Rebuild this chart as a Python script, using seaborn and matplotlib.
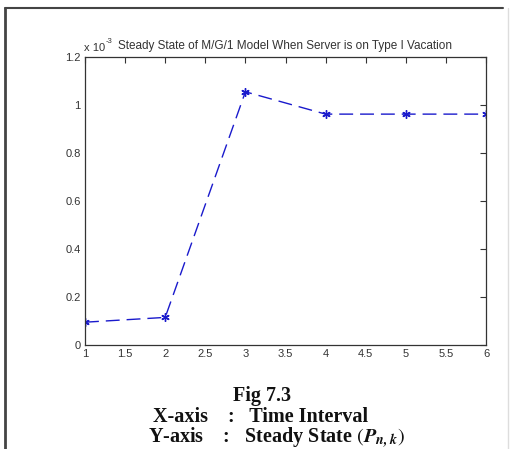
import matplotlib
matplotlib.use("Agg")
import matplotlib.pyplot as plt
import seaborn as sns
import pandas as pd

# data (values in units of 1e-3)
time_interval = [1, 2, 3, 4, 5, 6]
steady_state = [0.095, 0.115, 1.055, 0.962, 0.962, 0.962]
x_ticks = [1, 1.5, 2, 2.5, 3, 3.5, 4, 4.5, 5, 5.5, 6]
y_ticks = [0, 0.2, 0.4, 0.6, 0.8, 1, 1.2]

sns.set_style("white")
plt.rcParams['font.family'] = ['Liberation Sans', 'DejaVu Sans']
plt.rcParams['mathtext.fontset'] = 'stix'

df = pd.DataFrame({'t': time_interval, 'p': steady_state})

fig = plt.figure(figsize=(5.11, 4.49), dpi=100)
ax = fig.add_axes([85 / 511, 104 / 449, 401 / 511, 288 / 449])

line_col = '#1a1acc'
sns.lineplot(data=df, x='t', y='p', ax=ax, color=line_col, linewidth=1.0,
             marker=(6, 2, 0), markersize=6, markeredgecolor=line_col,
             markeredgewidth=1.0, dashes=False, linestyle=(0, (10, 5)))

ax.set_xlim(1, 6)
ax.set_ylim(0, 1.2)
ax.set_xticks(x_ticks)
ax.set_xticklabels([f'{v:g}' for v in x_ticks])
ax.set_yticks(y_ticks)
ax.set_yticklabels([f'{v:g}' for v in y_ticks])
ax.set_xlabel('')
ax.set_ylabel('')
ax.tick_params(direction='in', length=4, width=0.8, labelsize=8, color='#333333',
               labelcolor='#333333', top=True, right=True, pad=3)
for s in ax.spines.values():
    s.set_visible(True)
    s.set_color('#333333')
    s.set_linewidth(0.9)

# MATLAB-style exponent label and title
fig.text(84 / 511, 1 - 51 / 449, 'x 10', fontsize=8, color='#333333', va='baseline')
fig.text(106 / 511, 1 - 43 / 449, '-3', fontsize=5.5, color='#333333', va='baseline')
ax.set_title('Steady State of M/G/1 Model When Server is on Type I Vacation',
             fontsize=8.5, color='#333333', pad=6)

# caption below the chart
cap = dict(ha='center', va='center', family=['Liberation Serif', 'DejaVu Serif'],
           fontweight='bold', fontsize=14.5, color='#111111')
fig.text(262 / 511, 1 - 396 / 449, 'Fig 7.3', **cap)
fig.text(261 / 511, 1 - 417 / 449, 'X-axis    :   Time Interval', **cap)
fig.text(276 / 511, 1 - 438 / 449,
         r'Y-axis    :   Steady State $(\mathbfit{P}_{\mathbfit{n,k}})$', **cap)

# outer frame of the scanned page
fig.add_artist(plt.Line2D([5 / 511, 5 / 511], [0, 1 - 8 / 449], transform=fig.transFigure,
                          color='#444444', linewidth=2))
fig.add_artist(plt.Line2D([5 / 511, 503 / 511], [1 - 8 / 449, 1 - 8 / 449],
                          transform=fig.transFigure, color='#444444', linewidth=1.5))
fig.add_artist(plt.Line2D([508 / 511, 508 / 511], [0, 1 - 8 / 449], transform=fig.transFigure,
                          color='#dddddd', linewidth=1))

fig.savefig('out.png', dpi=100)
